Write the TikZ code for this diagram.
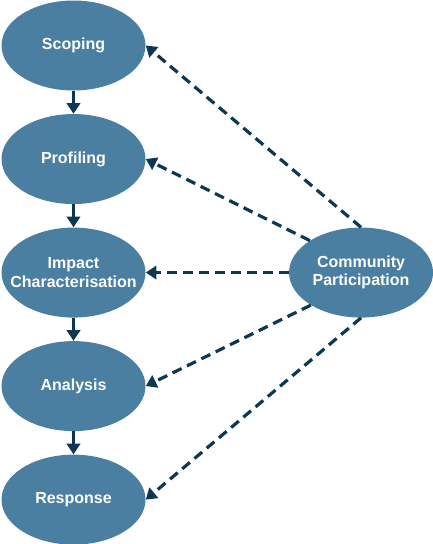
\documentclass[tikz,border=0pt]{standalone}
\usepackage{fontspec}
\setmainfont{Liberation Sans}
\usepackage{xcolor}
\usepackage{tikz}
\usetikzlibrary{arrows.meta,positioning,shapes.geometric}

\definecolor{stageblue}{HTML}{4A7FA2}
\definecolor{linknavy}{HTML}{0E3752}

\begin{document}
\begin{tikzpicture}[
    x=0.75pt, y=-0.75pt,
    font=\fontsize{12}{13.7}\selectfont\bfseries,
    node distance=17.25pt and 107.25pt,
    stage/.style={ellipse, fill=stageblue, text=white, align=center, minimum width=108pt, minimum height=67.5pt, inner xsep=-20pt, inner ysep=0pt},
    flow/.style={-{Triangle[length=8pt, width=10pt]}, line width=2.6pt, draw=linknavy},
    part/.style={-{Triangle[length=8pt, width=10pt]}, line width=2.4pt, draw=linknavy, dash pattern=on 7.5pt off 4.5pt}
]
\useasboundingbox (0,0) rectangle (433,544);
\node[stage] (scope) at (73.5,45.5) {Scoping};
\node[stage, below=of scope] (profile) {Profiling};
\node[stage, below=of profile] (impact) {Impact\\Characterisation};
\node[stage, below=of impact] (analyse) {Analysis};
\node[stage, below=of analyse] (respond) {Response};
\node[stage, right=of impact] (community) {Community\\Participation};
\draw[flow] (scope) -- (profile);
\draw[flow] (profile) -- (impact);
\draw[flow] (impact) -- (analyse);
\draw[flow] (analyse) -- (respond);
\draw[part] (community.north) -- (scope.east);
\draw[part] (community.148) -- (profile.east);
\draw[part] (community.west) -- (impact.east);
\draw[part] (community.213) -- (analyse.east);
\draw[part] (community.south) -- (respond.east);
\end{tikzpicture}
\end{document}
